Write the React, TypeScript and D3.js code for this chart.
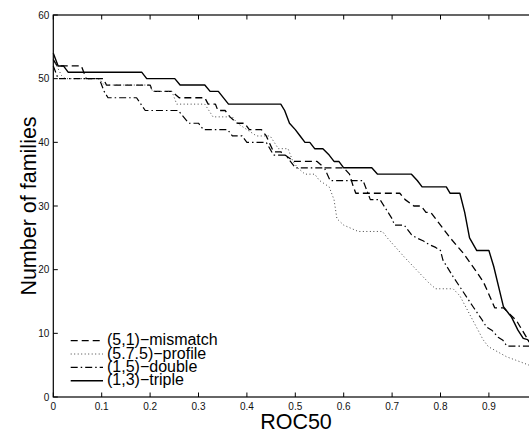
import React from "react";
import * as d3 from "d3";

type P = [number, number];

const xTicks = [0, 0.1, 0.2, 0.3, 0.4, 0.5, 0.6, 0.7, 0.8, 0.9, 1];
const xTickLabels = ["0", "0.1", "0.2", "0.3", "0.4", "0.5", "0.6", "0.7", "0.8", "0.9"];
const yTicks = [0, 10, 20, 30, 40, 50, 60];
const yTickLabels = ["0", "10", "20", "30", "40", "50", "60"];

const seriesNames = ["(5,1)\u2212mismatch", "(5.7.5)\u2212profile", "(1,5)\u2212double", "(1,3)\u2212triple"];

const mismatch: P[] = [
  [0, 53], [0.008, 52], [0.058, 52], [0.068, 50], [0.103, 50], [0.11, 49], [0.2, 49], [0.205, 48],
  [0.245, 48], [0.26, 47], [0.313, 47], [0.32, 46], [0.335, 46], [0.34, 45], [0.355, 45], [0.365, 44],
  [0.38, 43], [0.395, 43], [0.405, 42], [0.43, 42], [0.44, 41], [0.455, 38.5], [0.47, 38.5], [0.497, 37],
  [0.545, 37], [0.56, 36], [0.6, 36], [0.612, 35], [0.62, 33], [0.625, 32], [0.716, 32], [0.727, 31],
  [0.745, 30], [0.76, 30], [0.77, 29], [0.78, 29], [0.79, 28], [0.8, 27], [0.82, 25], [0.848, 22.5],
  [0.876, 19.5], [0.889, 18], [0.895, 17], [0.912, 14], [0.93, 14], [0.957, 12], [0.979, 9.2], [0.99, 8],
];

const profile: P[] = [
  [0, 53], [0.007, 52], [0.017, 50.5], [0.025, 50], [0.095, 50], [0.105, 49], [0.2, 49], [0.205, 48],
  [0.245, 48], [0.255, 46], [0.313, 46], [0.33, 44], [0.37, 44], [0.38, 43], [0.4, 42], [0.42, 41],
  [0.448, 41], [0.465, 39], [0.485, 39], [0.495, 37], [0.505, 36], [0.52, 35], [0.54, 35], [0.55, 34],
  [0.57, 33], [0.58, 31], [0.586, 28], [0.6, 27], [0.63, 26], [0.68, 26], [0.69, 25], [0.725, 22],
  [0.75, 20], [0.775, 18], [0.79, 17], [0.826, 17], [0.84, 15.9], [0.888, 9], [0.899, 7.9], [0.937, 6.3],
  [0.955, 5.8], [0.99, 4.8],
];

const double_: P[] = [
  [0, 52], [0.01, 50], [0.095, 50], [0.105, 48], [0.113, 47], [0.172, 47], [0.19, 45], [0.258, 45],
  [0.28, 43], [0.3, 43], [0.31, 42], [0.36, 42], [0.37, 41], [0.39, 41], [0.4, 40], [0.44, 40],
  [0.455, 38], [0.48, 38], [0.5, 36], [0.56, 36], [0.572, 34], [0.64, 34], [0.65, 32], [0.655, 31],
  [0.675, 31], [0.7, 28], [0.705, 27], [0.725, 27], [0.74, 25.5], [0.75, 25], [0.765, 24.5], [0.775, 24],
  [0.79, 23.5], [0.8, 23], [0.805, 21.5], [0.826, 18.9], [0.868, 14.1], [0.886, 12.1], [0.895, 11],
  [0.906, 10.5], [0.919, 9.4], [0.929, 8.9], [0.937, 8], [0.99, 8],
];

const triple: P[] = [
  [0, 54], [0.01, 52], [0.021, 52], [0.031, 51], [0.183, 51], [0.193, 50], [0.251, 50], [0.262, 49],
  [0.313, 49], [0.324, 48], [0.341, 48], [0.362, 46], [0.47, 46], [0.478, 45], [0.488, 43], [0.5, 42],
  [0.51, 41], [0.52, 40], [0.53, 40], [0.54, 39], [0.557, 39], [0.57, 38], [0.58, 37], [0.59, 37],
  [0.6, 36], [0.658, 36], [0.67, 35], [0.74, 35], [0.752, 34], [0.762, 33], [0.812, 33], [0.82, 32],
  [0.84, 32], [0.85, 29], [0.86, 25], [0.875, 23], [0.9, 23], [0.91, 20.5], [0.93, 14.2], [0.947, 12.5],
  [0.96, 10.5], [0.971, 9.2], [0.98, 9], [0.99, 8],
];

const allSeries = [mismatch, profile, double_, triple];
const dashes = ["7,4", "1,2.5", "7,3,1.5,3", "none"];
const widths = [1.3, 1, 1.2, 1.4];
const colors = ["#000", "#444", "#000", "#000"];

export default function App() {
  const W = 529, H = 432;
  const x = d3.scaleLinear().domain([0, 1]).range([53.3, 537.3]);
  const y = d3.scaleLinear().domain([0, 60]).range([397, 15]);
  const line = d3.line<P>().x((d) => x(d[0])).y((d) => y(d[1]));
  const font = "'Liberation Sans', Arial, Helvetica, sans-serif";
  const legendY = [340.7, 354, 367.3, 380.7];

  return (
    <div style={{ position: "absolute", left: 0, top: 0, width: W, height: H, overflow: "hidden", background: "#fff" }}>
      <svg width={W} height={H} style={{ display: "block" }} fontFamily={font}>
        <rect x={0} y={0} width={W} height={H} fill="#fff" />
        {allSeries.map((s, i) => (
          <path key={i} d={line(s) || ""} fill="none" stroke={colors[i]} strokeWidth={widths[i]}
            strokeDasharray={dashes[i]} strokeLinejoin="round" />
        ))}
        <rect x={x(0)} y={y(60)} width={x(1) - x(0)} height={y(0) - y(60)} fill="none" stroke="#000" strokeWidth={1.2} />
        {xTicks.map((t, i) => (
          <g key={"xt" + i}>
            <line x1={x(t)} x2={x(t)} y1={y(0)} y2={y(0) - 4.5} stroke="#000" strokeWidth={1} />
            <line x1={x(t)} x2={x(t)} y1={y(60)} y2={y(60) + 4.5} stroke="#000" strokeWidth={1} />
            {i < xTickLabels.length && (
              <text x={x(t)} y={409.5} fontSize={10} textAnchor="middle" fill="#111">{xTickLabels[i]}</text>
            )}
          </g>
        ))}
        {yTicks.map((t, i) => (
          <g key={"yt" + i}>
            <line x1={x(0)} x2={x(0) + 4.5} y1={y(t)} y2={y(t)} stroke="#000" strokeWidth={1} />
            <text x={49.3} y={y(t) + 3.6} fontSize={10} textAnchor="end" fill="#111">{yTickLabels[i]}</text>
          </g>
        ))}
        <text x={296} y={429} fontSize={21.5} textAnchor="middle" fill="#000">ROC50</text>
        <text transform="translate(36,206) rotate(-90)" fontSize={21.5} textAnchor="middle" fill="#000">Number of families</text>
        {seriesNames.map((n, i) => (
          <g key={"lg" + i}>
            <line x1={70.7} x2={103} y1={legendY[i]} y2={legendY[i]} stroke={colors[i]} strokeWidth={widths[i]}
              strokeDasharray={dashes[i]} />
            <text x={107} y={legendY[i] + 4.6} fontSize={16} fill="#000">{n}</text>
          </g>
        ))}
      </svg>
    </div>
  );
}
